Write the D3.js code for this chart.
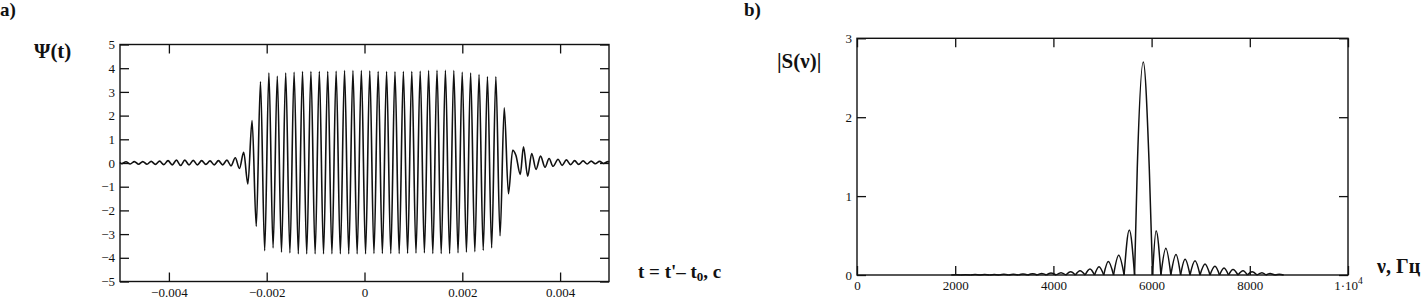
<!DOCTYPE html>
<html lang="ru">
<head>
  <meta charset="utf-8">
  <title>Psi(t) and |S(nu)|</title>
  <script src="https://cdn.jsdelivr.net/npm/d3@7"></script>
  <style>
  body {
    margin: 0;
    background: #fff;
  }
  </style>
</head>
<body>
<script>

// panel a) : extrema of Psi(t) (t in seconds)
var psiTime = [
  -0.005, -0.0049636, -0.0048776, -0.0047917, -0.0047057, -0.0046198, -0.0045338,
  -0.0044479, -0.0043619, -0.0042760, -0.0041900, -0.0041041, -0.0040181, -0.0039322,
  -0.0038462, -0.0037603, -0.0036743, -0.0035884, -0.0035024, -0.0034165, -0.0033305,
  -0.0032446, -0.0031586, -0.0030727, -0.0029867, -0.0029008, -0.0028148, -0.0027289,
  -0.0026429, -0.0025570, -0.0024710, -0.0023851, -0.0022991, -0.0022132, -0.0021272,
  -0.0020413, -0.0019553, -0.0018694, -0.0017834, -0.0016975, -0.0016115, -0.0015256,
  -0.0014396, -0.0013537, -0.0012677, -0.0011818, -0.0010958, -0.0010099, -0.0009239,
  -0.0008380, -0.0007520, -0.0006661, -0.0005801, -0.0004942, -0.0004082, -0.0003223,
  -0.0002363, -0.0001504, -0.0000644, 0.0000215, 0.0001075, 0.0001934, 0.0002794,
  0.0003653, 0.0004513, 0.0005372, 0.0006232, 0.0007091, 0.0007951, 0.0008810,
  0.0009670, 0.0010529, 0.0011389, 0.0012248, 0.0013108, 0.0013967, 0.0014827,
  0.0015686, 0.0016546, 0.0017405, 0.0018265, 0.0019124, 0.0019984, 0.0020843,
  0.0021703, 0.0022562, 0.0023422, 0.0024281, 0.0025141, 0.0026000, 0.0026860,
  0.0027719, 0.0028579, 0.0029438, 0.0030298, 0.0030974, 0.0031856, 0.0032513,
  0.0033374, 0.0034195, 0.0035077, 0.0036000, 0.0036923, 0.0037744, 0.0038564,
  0.0039590, 0.0040410, 0.0041292, 0.0042154, 0.0042974, 0.0043795, 0.0044718,
  0.0045538, 0.0046359, 0.0047179, 0.0048062, 0.0048923, 0.0049785, 0.005
];
var psiValue = [
  0.02, -0.03, 0.05, -0.04, 0.06, -0.05, 0.06,
  -0.05, 0.07, -0.06, 0.08, -0.07, 0.10, -0.08,
  0.12, -0.10, 0.12, -0.08, 0.11, -0.08, 0.10,
  -0.06, 0.09, -0.08, 0.10, -0.08, 0.12, -0.12,
  0.22, -0.23, 0.45, -0.88, 1.79, -2.67, 3.43,
  -3.70, 3.80, -3.58, 3.66, -3.76, 3.80, -3.79,
  3.83, -3.83, 3.86, -3.83, 3.86, -3.83, 3.86,
  -3.83, 3.86, -3.83, 3.87, -3.83, 3.90, -3.83,
  3.90, -3.83, 3.90, -3.83, 3.88, -3.82, 3.86,
  -3.82, 3.86, -3.82, 3.85, -3.82, 3.86, -3.81,
  3.86, -3.80, 3.87, -3.79, 3.90, -3.82, 3.91,
  -3.82, 3.91, -3.82, 3.90, -3.79, 3.83, -3.76,
  3.80, -3.74, 3.73, -3.68, 3.64, -3.58, 3.64,
  -3.07, 2.33, -1.30, 0.54, 0.32, -0.48, 0.68,
  -0.56, 0.40, -0.27, 0.29, -0.18, 0.19, -0.14,
  0.16, -0.10, 0.13, -0.07, 0.10, -0.06, 0.09,
  -0.04, 0.08, -0.03, 0.07, -0.02, 0.06, 0.03
];

// panel b) : |S(nu)| lobes, zeros and peaks (nu in Hz)
var specNu = [
  1920, 2015, 2115, 2210, 2310, 2405, 2505, 2600, 2700, 2795, 2895, 2990, 3090, 3185,
  3285, 3380, 3480, 3578, 3670, 3762, 3857, 3951, 4055, 4155, 4255, 4352, 4447, 4542,
  4645, 4745, 4837, 4929, 5025, 5118, 5225, 5330, 5440, 5546, 5653, 5708, 5830, 5953,
  6020, 6092, 6190, 6290, 6392, 6497, 6590, 6682, 6782, 6884, 6986, 7088, 7190, 7290,
  7383, 7475, 7567, 7658, 7760, 7862, 7953, 8045, 8146, 8248, 8330, 8411, 8513, 8600, 8690
];
var specAmp = [
  0, 0.004, 0, 0.004, 0, 0.005, 0, 0.006, 0, 0.007, 0, 0.008, 0, 0.010,
  0, 0.012, 0, 0.015, 0, 0.020, 0, 0.025, 0, 0.030, 0, 0.040, 0, 0.055,
  0, 0.076, 0, 0.105, 0, 0.17, 0, 0.25, 0, 0.57, 0, 1.35, 2.70, 1.35,
  0, 0.56, 0, 0.34, 0, 0.26, 0, 0.20, 0, 0.18, 0, 0.14, 0, 0.11,
  0, 0.09, 0, 0.07, 0, 0.055, 0, 0.04, 0, 0.03, 0, 0.02, 0, 0.01, 0
];

var psiXTicks = [-0.004, -0.002, 0, 0.002, 0.004];
var psiYTicks = [-5, -4, -3, -2, -1, 0, 1, 2, 3, 4, 5];
var specXTicks = [0, 2000, 4000, 6000, 8000, 10000];
var specYTicks = [0, 1, 2, 3];

var width = 1426;
var height = 303;
var tick = 9;
var serif = "'Liberation Serif', 'Times New Roman', 'DejaVu Serif', serif";
var ink = "#111";

var svg = d3.select("body").append("svg")
  .attr("width", width)
  .attr("height", height)
  .style("font-family", serif);

// ---------- a) ----------
var ax = d3.scaleLinear().domain([-0.005, 0.005]).range([120, 609]);
var ay = d3.scaleLinear().domain([-5, 5]).range([281.5, 44.5]);

var fmtT = function(d) { return d === 0 ? "0" : d3.format(".3f")(d); };

drawAxes(ax, ay, psiXTicks, psiYTicks, fmtT, function(d) { return d3.format("d")(d); });

var psiLine = d3.line()
  .x(function(d) { return ax(d[0]); })
  .y(function(d) { return ay(d[1]); })
  .curve(d3.curveMonotoneX);

svg.append("path")
  .attr("fill", "none")
  .attr("stroke", ink)
  .attr("stroke-width", 1.6)
  .attr("stroke-linejoin", "round")
  .attr("d", psiLine(d3.zip(psiTime, psiValue)));

label(0, 16, 19, "a)");
label(34, 58, 21, "\u03A8(t)");

var tl = label(638, 278, 19, "");
tl.append("tspan").text("t = t'\u2013 t");
tl.append("tspan").attr("dy", 3).style("font-size", "13px").text("0");
tl.append("tspan").attr("dy", -3).text(", c");

// ---------- b) ----------
var bx = d3.scaleLinear().domain([0, 10000]).range([857, 1348]);
var by = d3.scaleLinear().domain([0, 3]).range([275, 38.3]);

drawAxes(bx, by, specXTicks, specYTicks,
  function(d) { return d === 10000 ? "1\u00B710" : d3.format("d")(d); },
  function(d) { return d3.format("d")(d); });

// superscript for 1·10^4
svg.selectAll(".xlab .tick text")
  .filter(function(d) { return d === 10000; })
  .append("tspan")
  .attr("dy", -6)
  .style("font-size", "9.5px")
  .text("4");

var specLine = d3.line()
  .x(function(d) { return bx(d[0]); })
  .y(function(d) { return by(d[1]); })
  .curve(d3.curveMonotoneX);

// split into separate lobes at the zeros so the cusps stay sharp
var lobes = [];
var cur = [];
specNu.forEach(function(nu, i) {
  cur.push([nu, specAmp[i]]);
  if (specAmp[i] === 0 && cur.length > 1) {
    lobes.push(cur);
    cur = [[nu, 0]];
  }
});

svg.append("g").selectAll("path")
  .data(lobes)
  .enter().append("path")
  .attr("fill", "none")
  .attr("stroke", ink)
  .attr("stroke-width", 1.5)
  .attr("stroke-linejoin", "round")
  .attr("d", specLine);

label(744, 16, 19, "b)");
label(777, 68, 21, "|S(\u03BD)|");
label(1377, 273, 20, "\u03BD, \u0413\u0446");

function label(x, y, size, s) {
  return svg.append("text")
    .attr("x", x)
    .attr("y", y)
    .attr("fill", ink)
    .style("font-family", serif)
    .style("font-weight", "bold")
    .style("font-size", size + "px")
    .text(s);
}

// frame with inward ticks on all four sides
function drawAxes(x, y, xt, yt, fx, fy) {
  var x0 = x.range()[0], x1 = x.range()[1];
  var y0 = y.range()[0], y1 = y.range()[1];

  var gs = [];
  gs.push(svg.append("g").attr("class", "xlab")
    .attr("transform", "translate(0," + y0 + ")")
    .call(d3.axisBottom(x).tickValues(xt).tickSize(-tick).tickPadding(6).tickFormat(fx)));

  gs.push(svg.append("g")
    .attr("transform", "translate(0," + y1 + ")")
    .call(d3.axisTop(x).tickValues(xt).tickSize(-tick).tickFormat("")));

  gs.push(svg.append("g")
    .attr("transform", "translate(" + x0 + ",0)")
    .call(d3.axisLeft(y).tickValues(yt).tickSize(-tick).tickPadding(5).tickFormat(fy)));

  gs.push(svg.append("g")
    .attr("transform", "translate(" + x1 + ",0)")
    .call(d3.axisRight(y).tickValues(yt).tickSize(-tick).tickFormat("")));

  gs.forEach(function(g) {
    g.select(".domain").remove();
    g.attr("font-family", null).attr("font-size", null);
    g.selectAll(".tick line").attr("stroke", ink).attr("stroke-width", 1.3);
    g.selectAll(".tick text")
      .attr("fill", ink)
      .style("font-family", serif)
      .style("font-size", "13px");
  });

  svg.append("rect")
    .attr("x", x0)
    .attr("y", y1)
    .attr("width", x1 - x0)
    .attr("height", y0 - y1)
    .attr("fill", "none")
    .attr("stroke", ink)
    .attr("stroke-width", 1.4);
}
</script>
</body>
</html>
